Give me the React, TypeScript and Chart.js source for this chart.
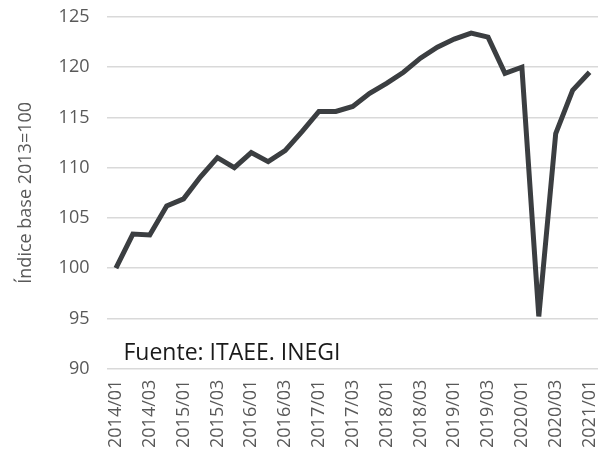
import React, { useEffect, useRef } from "react";
import { Chart, registerables } from "chart.js";

Chart.register(...registerables);

const categories: string[] = [
  "2014/01", "2014/02", "2014/03", "2014/04",
  "2015/01", "2015/02", "2015/03", "2015/04",
  "2016/01", "2016/02", "2016/03", "2016/04",
  "2017/01", "2017/02", "2017/03", "2017/04",
  "2018/01", "2018/02", "2018/03", "2018/04",
  "2019/01", "2019/02", "2019/03", "2019/04",
  "2020/01", "2020/02", "2020/03", "2020/04",
  "2021/01",
];

const indexValues: number[] = [
  100.0, 103.4, 103.3, 106.2,
  106.9, 109.1, 111.0, 110.0,
  111.5, 110.6, 111.7, 113.6,
  115.6, 115.6, 116.1, 117.4,
  118.4, 119.5, 120.9, 122.0,
  122.8, 123.4, 123.0, 119.4,
  120.0, 95.2, 113.4, 117.7,
  119.5,
];

const yMin = 90;
const yMax = 125;
const yStep = 5;
const yTitle = "Índice base 2013=100";
const sourceText = "Fuente: ITAEE. INEGI";

const FONT = "'Open Sans', sans-serif";

const sourcePlugin = {
  id: "sourceText",
  afterDatasetsDraw(chart: any) {
    const { ctx, chartArea, scales } = chart;
    ctx.save();
    ctx.font = `23px ${FONT}`;
    ctx.fillStyle = "#1a1a1a";
    ctx.textBaseline = "middle";
    ctx.textAlign = "left";
    ctx.fillText(sourceText, chartArea.left + 16, scales.y.getPixelForValue(91.5));
    ctx.restore();
  },
};

export default function App() {
  const canvasRef = useRef<HTMLCanvasElement | null>(null);

  useEffect(() => {
    document.body.style.margin = "0";
    const canvas = canvasRef.current;
    if (!canvas) return;
    const chart = new Chart(canvas, {
      type: "line",
      data: {
        labels: categories,
        datasets: [
          {
            data: indexValues,
            borderColor: "#3b3e41",
            borderWidth: 5,
            pointRadius: 0,
            tension: 0,
            fill: false,
          },
        ],
      },
      options: {
        responsive: false,
        animation: false,
        layout: { padding: { top: 17, right: 4, bottom: 4, left: 11 } },
        plugins: {
          legend: { display: false },
          tooltip: { enabled: false },
        },
        scales: {
          x: {
            offset: true,
            grid: { display: false },
            border: { display: false },
            afterFit: (scale: any) => {
              scale.paddingRight = 0;
              scale.paddingLeft = 0;
            },
            ticks: {
              autoSkip: false,
              maxRotation: 90,
              minRotation: 90,
              color: "#595959",
              font: { family: FONT, size: 18 },
              callback: (_v: any, i: number) => (i % 2 === 0 ? categories[i] : ""),
            },
          },
          y: {
            min: yMin,
            max: yMax,
            grid: { color: "#d9d9d9", lineWidth: 1.5, drawTicks: false },
            border: { display: false },
            afterFit: (scale: any) => {
              scale.paddingTop = 0;
              scale.paddingBottom = 0;
            },
            ticks: {
              stepSize: yStep,
              color: "#595959",
              padding: 18,
              font: { family: FONT, size: 18 },
            },
            title: {
              display: true,
              text: yTitle,
              color: "#595959",
              font: { family: FONT, size: 18 },
            },
          },
        },
      },
      plugins: [sourcePlugin],
    });
    return () => chart.destroy();
  }, []);

  return (
    <div style={{ width: 602, height: 455 }}>
      <canvas ref={canvasRef} width={602} height={455} />
    </div>
  );
}
